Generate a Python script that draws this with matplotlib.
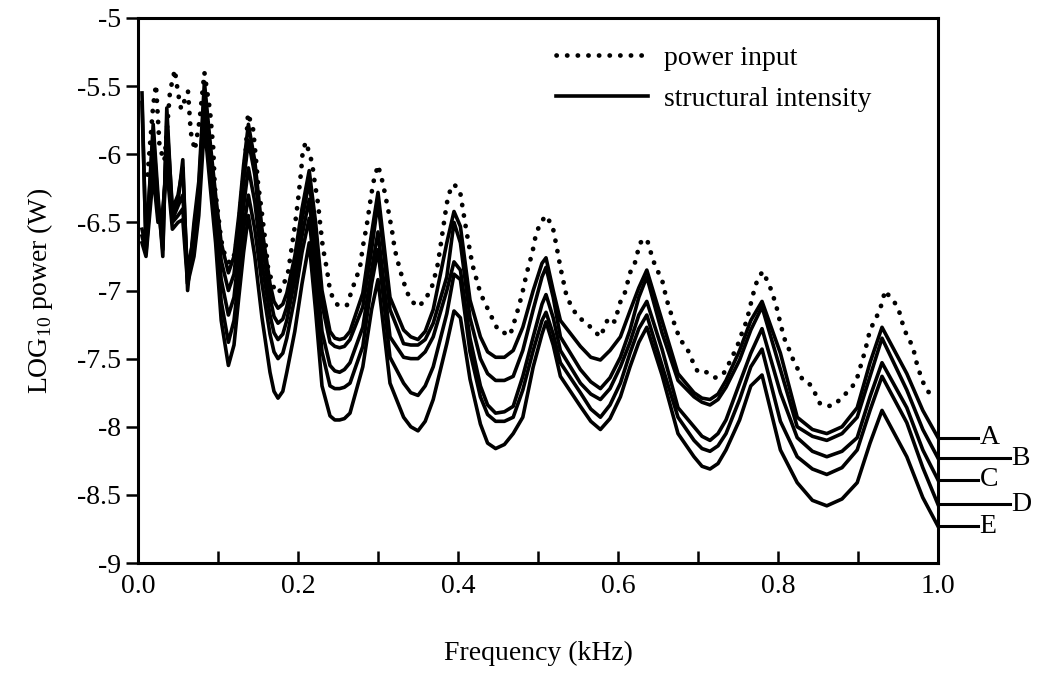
import matplotlib
matplotlib.use("Agg")
import matplotlib.pyplot as plt
import numpy as np

plt.rcParams["font.family"] = ["Liberation Serif", "DejaVu Serif"]
plt.rcParams["mathtext.fontset"] = "custom"
plt.rcParams["mathtext.rm"] = "Liberation Serif"

# power input (dotted curve)
freq_input = [
    0.012, 0.019, 0.0225, 0.027, 0.033, 0.040, 0.046, 0.050, 0.054, 0.0625, 0.066, 0.071, 0.077,
    0.083, 0.090, 0.094, 0.096, 0.100, 0.104, 0.109, 0.115, 0.121, 0.125, 0.129, 0.134, 0.1375,
    0.144, 0.1475, 0.150, 0.154, 0.159, 0.1625, 0.169, 0.175, 0.181, 0.1875, 0.191, 0.196, 0.200,
    0.204, 0.206, 0.210, 0.2175, 0.221, 0.225, 0.2275, 0.231, 0.236, 0.240, 0.244, 0.250, 0.261,
    0.269, 0.2775, 0.281, 0.286, 0.290, 0.294, 0.300, 0.306, 0.3125, 0.3175, 0.321, 0.3275, 0.336,
    0.3425, 0.350, 0.359, 0.3675, 0.374, 0.3775, 0.381, 0.386, 0.390, 0.395, 0.4025, 0.406, 0.411,
    0.418, 0.428, 0.440, 0.450, 0.465, 0.473, 0.480, 0.486, 0.493, 0.498, 0.509, 0.518, 0.523,
    0.528, 0.536, 0.549, 0.561, 0.569, 0.578, 0.588, 0.596, 0.6025, 0.609, 0.615, 0.621, 0.6275,
    0.636, 0.640, 0.644, 0.649, 0.655, 0.661, 0.669, 0.6775, 0.686, 0.694, 0.700, 0.711, 0.721,
    0.731, 0.7375, 0.749, 0.755, 0.761, 0.7675, 0.771, 0.775, 0.781, 0.7875, 0.7925, 0.799, 0.8025,
    0.806, 0.811, 0.815, 0.819, 0.825, 0.831, 0.840, 0.846, 0.8525, 0.861, 0.871, 0.880, 0.886,
    0.8925, 0.899, 0.905, 0.909, 0.915, 0.921, 0.9275, 0.934, 0.940, 0.946, 0.9525, 0.956, 0.961,
    0.9675, 0.971, 0.974, 0.981, 0.9875, 0.996,
]
power_input = [
    -6.15, -5.64, -5.49, -5.95, -6.05, -5.54, -5.38, -5.55, -5.67, -5.54, -5.84, -5.97, -5.75,
    -5.40, -5.68, -5.95, -6.24, -6.43, -6.63, -6.75, -6.80, -6.73, -6.58, -6.34, -6.04, -5.70,
    -5.82, -6.04, -6.21, -6.39, -6.63, -6.83, -6.97, -7.02, -6.97, -6.87, -6.73, -6.53, -6.34,
    -6.12, -5.97, -5.91, -6.06, -6.21, -6.36, -6.50, -6.68, -6.84, -7.00, -7.06, -7.11, -7.11,
    -6.97, -6.83, -6.68, -6.52, -6.36, -6.21, -6.08, -6.21, -6.40, -6.56, -6.70, -6.85, -7.01,
    -7.08, -7.12, -7.07, -6.97, -6.83, -6.70, -6.56, -6.36, -6.27, -6.22, -6.27, -6.40, -6.58,
    -6.81, -7.02, -7.17, -7.29, -7.33, -7.18, -7.03, -6.87, -6.72, -6.57, -6.45, -6.52, -6.67,
    -6.83, -7.05, -7.19, -7.24, -7.29, -7.34, -7.20, -7.23, -7.09, -7.01, -6.87, -6.80, -6.65,
    -6.62, -6.70, -6.78, -6.85, -6.92, -7.07, -7.22, -7.36, -7.42, -7.53, -7.60, -7.60, -7.64,
    -7.62, -7.55, -7.41, -7.31, -7.22, -7.06, -6.98, -6.91, -6.86, -6.94, -7.01, -7.14, -7.23,
    -7.31, -7.41, -7.44, -7.51, -7.58, -7.66, -7.69, -7.75, -7.83, -7.85, -7.84, -7.78, -7.75,
    -7.71, -7.64, -7.52, -7.44, -7.29, -7.22, -7.14, -7.00, -7.05, -7.09, -7.17, -7.25, -7.33,
    -7.40, -7.47, -7.55, -7.67, -7.74, -7.80,
]

# structural intensity curves A-E (solid), shared frequency grid
freq_si = [
    0.005, 0.010, 0.019, 0.025, 0.031, 0.036, 0.043, 0.050, 0.056, 0.062, 0.070, 0.076, 0.083,
    0.090, 0.097, 0.104, 0.113, 0.120, 0.126, 0.132, 0.138,
    0.146, 0.155, 0.165, 0.170, 0.175, 0.181, 0.186, 0.196, 0.205, 0.214,
    0.222, 0.230, 0.240, 0.246, 0.252, 0.258, 0.265, 0.281, 0.292, 0.300,
    0.315, 0.332, 0.341, 0.350, 0.359, 0.369, 0.386, 0.395,
    0.403, 0.415, 0.428, 0.437, 0.447, 0.458, 0.469, 0.481, 0.494, 0.505, 0.510,
    0.519, 0.528, 0.553, 0.566, 0.578, 0.590, 0.603, 0.615, 0.626, 0.636,
    0.655, 0.675, 0.695, 0.705, 0.715, 0.725, 0.735, 0.752, 0.766, 0.780,
    0.803, 0.824, 0.843, 0.861, 0.880, 0.899, 0.915, 0.930,
    0.961, 0.981, 1.000,
]
si_A = [
    -5.55, -6.70, -5.78, -6.30, -6.75, -5.66, -6.45, -6.35, -6.04, -7.00, -6.50, -6.20, -5.47,
    -5.90, -6.30, -6.65, -6.87, -6.75, -6.45, -6.08, -5.78,
    -6.05, -6.55, -6.95, -7.08, -7.13, -7.10, -7.02, -6.75, -6.40, -6.12,
    -6.50, -7.00, -7.30, -7.35, -7.36, -7.35, -7.30, -7.02, -6.58, -6.28,
    -7.05, -7.29, -7.34, -7.36, -7.30, -7.14, -6.65, -6.42,
    -6.53, -7.07, -7.34, -7.45, -7.49, -7.49, -7.44, -7.27, -7.00, -6.80, -6.76,
    -7.00, -7.22, -7.41, -7.49, -7.51, -7.44, -7.34, -7.15, -6.98, -6.85,
    -7.22, -7.61, -7.75, -7.79, -7.80, -7.76, -7.66, -7.44, -7.22, -7.08,
    -7.46, -7.93, -8.02, -8.05, -8.00, -7.86, -7.53, -7.27,
    -7.61, -7.88, -8.08,
]
si_B = [
    -5.62, -6.65, -5.85, -6.35, -6.70, -5.75, -6.40, -6.30, -6.10, -6.95, -6.55, -6.25, -5.55,
    -5.98, -6.38, -6.78, -7.00, -6.88, -6.55, -6.20, -5.90,
    -6.15, -6.65, -7.05, -7.19, -7.24, -7.21, -7.12, -6.82, -6.48, -6.20,
    -6.60, -7.10, -7.38, -7.41, -7.42, -7.41, -7.36, -7.12, -6.70, -6.35,
    -7.14, -7.39, -7.40, -7.40, -7.36, -7.24, -6.90, -6.50,
    -6.65, -7.20, -7.50, -7.61, -7.66, -7.66, -7.63, -7.44, -7.14, -6.90, -6.83,
    -7.05, -7.34, -7.58, -7.67, -7.72, -7.64, -7.49, -7.29, -7.05, -6.90,
    -7.31, -7.66, -7.78, -7.82, -7.84, -7.80, -7.71, -7.51, -7.29, -7.12,
    -7.58, -8.00, -8.07, -8.10, -8.05, -7.93, -7.63, -7.35,
    -7.73, -8.02, -8.23,
]
si_C = [
    -6.55, -6.68, -5.95, -6.40, -6.55, -5.90, -6.48, -6.38, -6.30, -6.85, -6.60, -6.30, -5.62,
    -6.05, -6.45, -6.92, -7.18, -7.05, -6.72, -6.38, -6.10,
    -6.35, -6.80, -7.18, -7.31, -7.36, -7.32, -7.22, -6.92, -6.60, -6.33,
    -6.80, -7.30, -7.55, -7.59, -7.60, -7.58, -7.53, -7.27, -6.85, -6.57,
    -7.34, -7.49, -7.50, -7.50, -7.45, -7.34, -7.00, -6.79,
    -6.85, -7.35, -7.70, -7.84, -7.90, -7.89, -7.85, -7.63, -7.34, -7.10, -7.03,
    -7.20, -7.44, -7.68, -7.76, -7.80, -7.72, -7.56, -7.38, -7.18, -7.08,
    -7.43, -7.86, -8.00, -8.07, -8.10, -8.05, -7.95, -7.68, -7.46, -7.28,
    -7.75, -8.08, -8.18, -8.22, -8.18, -8.08, -7.78, -7.53,
    -7.86, -8.17, -8.39,
]
si_D = [
    -6.60, -6.72, -6.05, -6.45, -6.45, -6.00, -6.50, -6.45, -6.40, -6.90, -6.65, -6.35, -5.68,
    -6.12, -6.55, -7.08, -7.38, -7.22, -6.90, -6.55, -6.30,
    -6.55, -6.95, -7.32, -7.45, -7.50, -7.46, -7.35, -7.05, -6.72, -6.47,
    -6.95, -7.45, -7.70, -7.72, -7.72, -7.71, -7.68, -7.41, -6.95, -6.70,
    -7.49, -7.68, -7.75, -7.77, -7.70, -7.56, -7.17, -6.88,
    -6.92, -7.45, -7.78, -7.91, -7.96, -7.96, -7.93, -7.73, -7.44, -7.22, -7.16,
    -7.32, -7.53, -7.75, -7.87, -7.93, -7.84, -7.68, -7.46, -7.28, -7.18,
    -7.55, -7.93, -8.10, -8.16, -8.18, -8.14, -8.05, -7.80, -7.56, -7.43,
    -7.96, -8.22, -8.31, -8.35, -8.30, -8.17, -7.88, -7.63,
    -7.97, -8.30, -8.57,
]
si_E = [
    -6.65, -6.75, -6.15, -6.50, -6.40, -6.10, -6.55, -6.50, -6.48, -6.95, -6.75, -6.45, -5.78,
    -6.22, -6.65, -7.22, -7.55, -7.40, -7.05, -6.72, -6.45,
    -6.75, -7.20, -7.60, -7.74, -7.79, -7.74, -7.60, -7.30, -6.95, -6.65,
    -7.15, -7.70, -7.92, -7.95, -7.95, -7.94, -7.90, -7.56, -7.14, -6.92,
    -7.68, -7.93, -8.00, -8.03, -7.96, -7.80, -7.39, -7.15,
    -7.20, -7.65, -7.98, -8.12, -8.16, -8.13, -8.05, -7.93, -7.56, -7.32, -7.23,
    -7.40, -7.63, -7.85, -7.96, -8.02, -7.94, -7.78, -7.56, -7.38, -7.27,
    -7.62, -8.05, -8.22, -8.29, -8.31, -8.27, -8.17, -7.95, -7.70, -7.62,
    -8.17, -8.41, -8.54, -8.58, -8.53, -8.41, -8.12, -7.88,
    -8.22, -8.52, -8.73,
]
curve_names = ["A", "B", "C", "D", "E"]

xticks_major = [0.0, 0.2, 0.4, 0.6, 0.8, 1.0]
xtick_labels = ["0.0", "0.2", "0.4", "0.6", "0.8", "1.0"]
yticks = [-5, -5.5, -6, -6.5, -7, -7.5, -8, -8.5, -9]
ytick_labels = ["-5", "-5.5", "-6", "-6.5", "-7", "-7.5", "-8", "-8.5", "-9"]

fig = plt.figure(figsize=(10.47, 6.79), dpi=100)
ax = fig.add_axes([0.1318, 0.1708, 0.7641, 0.8027])

dotted, = ax.plot(freq_input, power_input, color="black", lw=3.4,
                  linestyle=(0, (0.05, 2.2)), dash_capstyle="round", label="power input")

si_curves = [si_A, si_B, si_C, si_D, si_E]
solid_lines = []
for vals in si_curves:
    ln, = ax.plot(freq_si, vals, color="black", lw=2.6, solid_joinstyle="round")
    solid_lines.append(ln)

ax.set_xlim(0, 1.0)
ax.set_ylim(-9, -5)

ax.set_xticks(xticks_major)
ax.set_xticklabels(xtick_labels)
ax.set_xticks(np.arange(0.1, 1.0, 0.2), minor=True)
ax.set_yticks(yticks)
ax.set_yticklabels(ytick_labels)

ax.tick_params(axis="x", which="both", direction="in", length=9, width=1.8, labelsize=20, pad=8)
ax.tick_params(axis="y", direction="out", length=9, width=1.8, labelsize=20, pad=3)

for sp in ax.spines.values():
    sp.set_linewidth(2.2)

ax.set_xlabel("Frequency (kHz)", fontsize=20, labelpad=30)
ax.set_ylabel("LOG$_{10}$ power (W)", fontsize=20, labelpad=16)

ax.legend([dotted, solid_lines[0]], ["power input", "structural intensity"],
          loc="upper left", bbox_to_anchor=(0.505, 0.975), frameon=False, fontsize=20,
          handlelength=3.3, handletextpad=0.6, labelspacing=0.55, borderpad=0)

# curve labels A-E outside the right spine
for i, (name, vals) in enumerate(zip(curve_names, si_curves)):
    y_end = vals[-1]
    x_stop = 1.05 if i % 2 == 0 else 1.09
    ax.plot([1.0, x_stop], [y_end, y_end], color="black", lw=2.2, clip_on=False)
    ax.text(x_stop + 0.002, y_end, name, fontsize=20, ha="left", va="center", clip_on=False)

fig.savefig("out.png", dpi=100)
